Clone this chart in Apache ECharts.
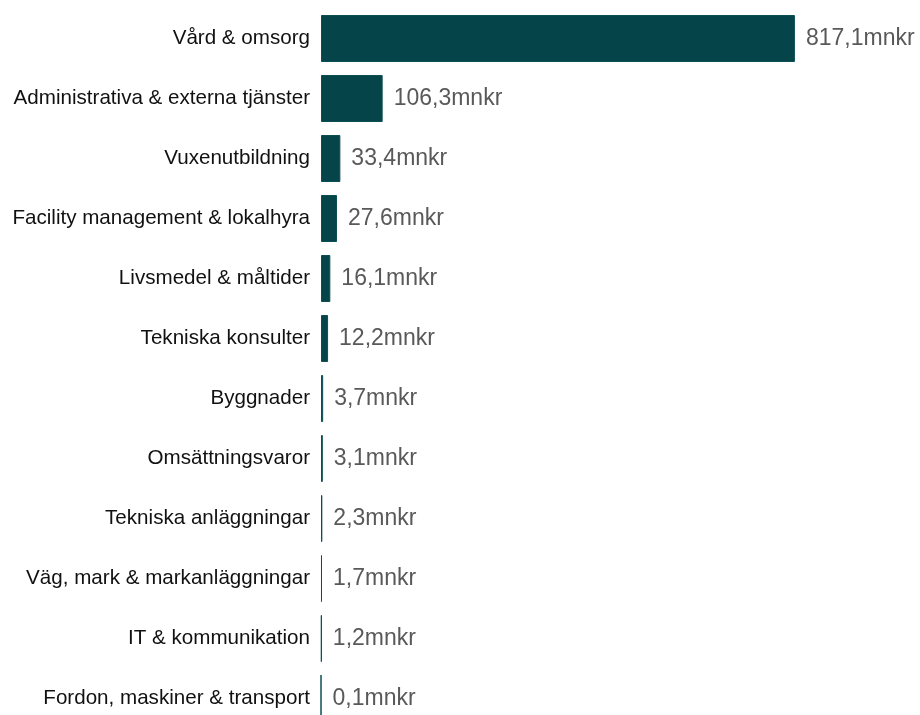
<!DOCTYPE html>
<html>
<head>
<meta charset="utf-8">
<script src="https://cdn.jsdelivr.net/npm/echarts@6/dist/echarts.min.js"></script>
<style>html,body{margin:0;padding:0;background:#fff}#c{width:920px;height:715px}</style>
</head>
<body>
<div id="c"></div>
<script>
var categories = ["Vård & omsorg","Administrativa & externa tjänster","Vuxenutbildning","Facility management & lokalhyra","Livsmedel & måltider","Tekniska konsulter","Byggnader","Omsättningsvaror","Tekniska anläggningar","Väg, mark & markanläggningar","IT & kommunikation","Fordon, maskiner & transport"];
var values = [817.1,106.3,33.4,27.6,16.1,12.2,3.7,3.1,2.3,1.7,1.2,0.1];

var chart = echarts.init(document.getElementById('c'), null, {renderer:'canvas'});
chart.setOption({
  animation:false,
  grid:{left:321, width:580, top:8.5, height:720, containLabel:false, outerBoundsMode:'none'},
  xAxis:{type:'value', min:0, max:1000, show:false},
  yAxis:{type:'category', data:categories, inverse:true,
    axisLine:{show:false}, axisTick:{show:false},
    axisLabel:{color:'#111', fontSize:20.6, fontFamily:'Liberation Sans, Arial', margin:11, padding:[3,0,0,0]}},
  series:[{type:'bar', data:values, barWidth:47,
    itemStyle:{color:'#054449', borderColor:'#0c4f53', borderWidth:1},
    label:{show:true, position:'right', distance:11, color:'#595959', fontSize:23,
      fontFamily:'Liberation Sans, Arial', padding:[3,0,0,0],
      formatter:function(p){return p.value.toFixed(1).replace('.',',')+'mnkr';}}}]
});
</script>
</body>
</html>
